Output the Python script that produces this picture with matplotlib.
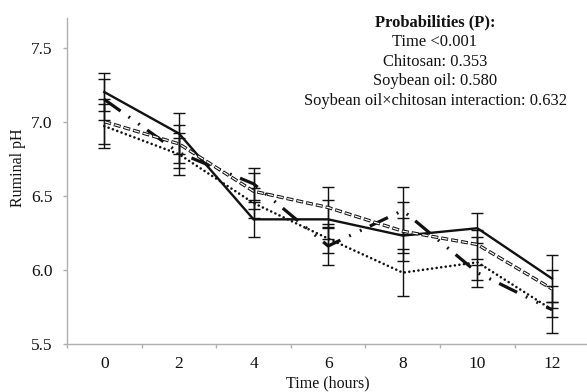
import matplotlib
matplotlib.use("Agg")
import matplotlib.pyplot as plt
import numpy as np

plt.rcParams['font.family'] = ['Liberation Serif', 'DejaVu Serif']
plt.rcParams['lines.scale_dashes'] = False

hours = ["0", "2", "4", "6", "8", "10", "12"]

# series values (ruminal pH)
solid_vals = [7.20, 6.92, 6.34, 6.34, 6.23, 6.28, 5.94]
solid_err = [0.13, 0.14, 0.12, 0.13, 0.12, 0.10, 0.16]

dashdot_vals = [7.15, 6.79, 6.58, 6.16, 6.40, 5.98, 5.73]
dashdot_err = [0.14, 0.10, 0.11, 0.13, 0.16, 0.05, 0.05]

double_vals = [7.00, 6.85, 6.53, 6.42, 6.26, 6.17, 5.87]
double_err = [0.15, 0.13, 0.12, 0.14, 0.20, 0.10, 0.13]

dotted_vals = [6.97, 6.78, 6.45, 6.21, 5.98, 6.05, 5.73]
dotted_err = [0.15, 0.14, 0.10, 0.10, 0.16, 0.17, 0.16]

prob_title = "Probabilities (P):"
prob_lines = ["Time <0.001", "Chitosan: 0.353", "Soybean oil: 0.580",
              "Soybean oil\u00d7chitosan interaction: 0.632"]

W, H = 587, 392
fig = plt.figure(figsize=(W / 100, H / 100), dpi=100)
ax = fig.add_axes([67 / W, 48.3 / H, (589.3 - 67) / W, (374 - 48.3) / H])

x = np.arange(len(hours))
ink = '#111111'

for vals, err in [(solid_vals, solid_err), (dashdot_vals, dashdot_err),
                  (double_vals, double_err), (dotted_vals, dotted_err)]:
    ax.errorbar(x, vals, yerr=err, fmt='none', ecolor=ink, elinewidth=1.0,
                capsize=4, capthick=1.0, zorder=2)

# solid
ax.plot(x, solid_vals, color=ink, lw=1.7, solid_joinstyle='miter', zorder=3)
# long dash dot dot
ax.plot(x, dashdot_vals, color=ink, lw=2.3,
        linestyle=(0, (14.4, 7.0, 1.3, 7.3, 1.3, 6.6)),
        dash_capstyle='butt', zorder=3)
# double (outlined) dashes
ax.plot(x, double_vals, color=ink, lw=2.4, linestyle=(0, (5.0, 2.2)),
        dash_capstyle='butt', zorder=3)
ax.plot(x, double_vals, color='white', lw=0.9, linestyle=(6.7, (4.0, 3.2)),
        dash_capstyle='butt', zorder=3.1)
# dotted
ax.plot(x, dotted_vals, color=ink, lw=1.9, linestyle=(0, (0.01, 3.3)),
        dash_capstyle='round', zorder=3)

ax.set_xlim(-0.5, 6.5)
ax.set_ylim(5.5, 7.7)
ax.set_yticks([5.5, 6.0, 6.5, 7.0, 7.5])
ax.set_yticklabels(["5.5", "6.0", "6.5", "7.0", "7.5"])
ax.set_xticks(x)
ax.set_xticklabels(hours)
ax.set_xticks(np.arange(-0.5, 7.0, 1.0), minor=True)

spine_c = '#b0b0b0'
for s in ['top', 'right']:
    ax.spines[s].set_visible(False)
for s in ['left', 'bottom']:
    ax.spines[s].set_color(spine_c)
    ax.spines[s].set_linewidth(1.0)

ax.tick_params(axis='y', direction='out', length=3, width=1.0, color=spine_c,
               labelsize=12.5, pad=7.5, labelcolor=ink)
ax.tick_params(axis='x', which='major', length=0, labelsize=12.5, pad=9, labelcolor=ink)
ax.tick_params(axis='x', which='minor', direction='out', length=3, width=1.0, color=spine_c)

ax.set_ylabel("Ruminal pH", fontsize=11.5, color=ink)
ax.yaxis.set_label_coords(-0.0794, 0.539)
ax.set_xlabel("Time (hours)", fontsize=11.5, color=ink)
ax.xaxis.set_label_coords(0.5, -0.097)

cx = 435 / W
fig.text(cx, 1 - 26.7 / H, prob_title, ha='center', va='baseline',
         fontsize=11.9, fontweight='bold', color=ink)
for i, line in enumerate(prob_lines):
    fig.text(cx, 1 - (46.2 + 19.5 * i) / H, line, ha='center', va='baseline',
             fontsize=11.9, color=ink)

fig.savefig("out.png", dpi=100, facecolor='white')
